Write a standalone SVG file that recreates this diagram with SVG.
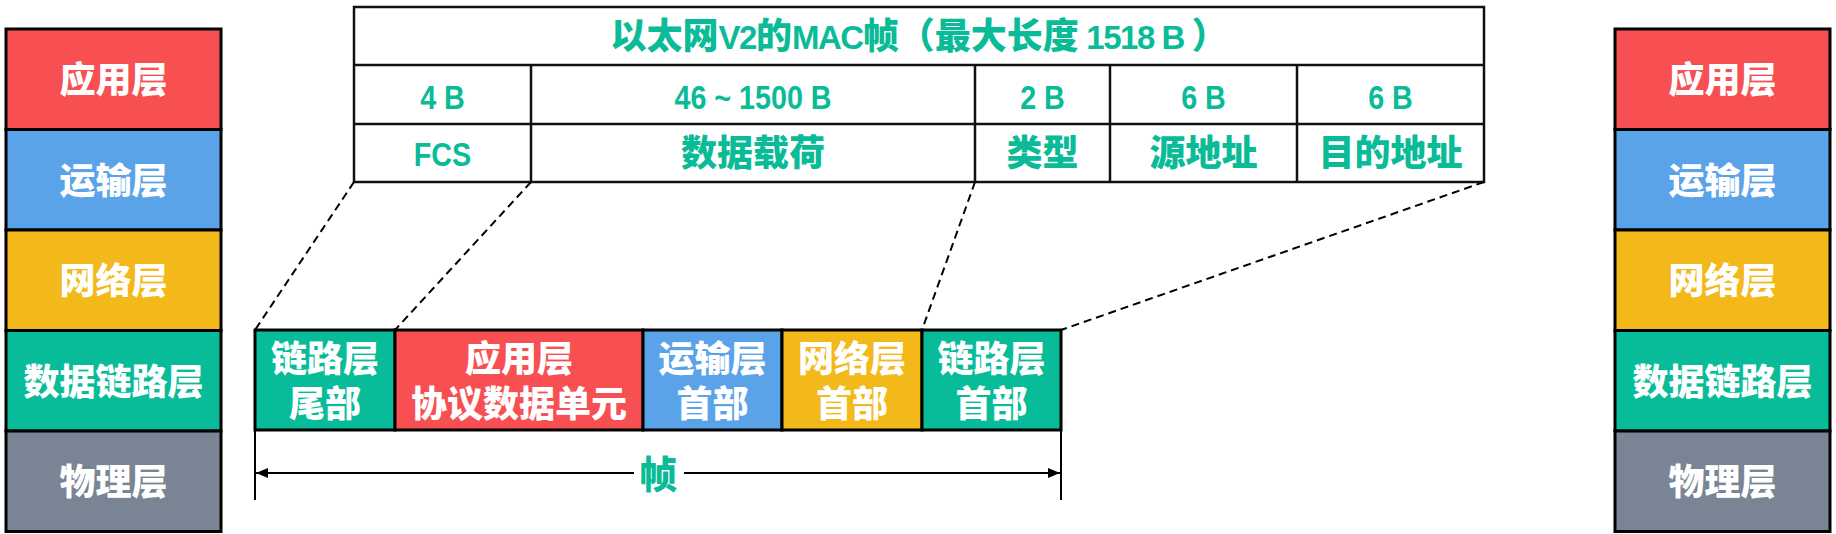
<svg xmlns="http://www.w3.org/2000/svg" width="1836" height="534" viewBox="0 0 1836 534">
<style>
text{font-family:"Liberation Sans","Noto Sans CJK SC",sans-serif;font-weight:900;text-anchor:middle}
.w{fill:#ffffff;font-size:36px}
.g{fill:#0ABB97;font-size:36px}
.gl{fill:#0ABB97;font-size:33px}
.lat{font-size:33px;letter-spacing:-1.5px}
.cell{stroke:#000;stroke-width:3}
.tb{fill:none;stroke:#111;stroke-width:2.5}
.red{fill:#F85052}
.blue{fill:#5BA3E8}
.yel{fill:#F3B91B}
.grn{fill:#08BC99}
.gry{fill:#798594}
.dash{fill:none;stroke:#000;stroke-width:2;stroke-dasharray:8 5}
.dim{fill:none;stroke:#000;stroke-width:2}
</style>
<defs>
<marker id="arr" viewBox="0 0 12 10" refX="12" refY="5" markerWidth="12" markerHeight="10" markerUnits="userSpaceOnUse" orient="auto-start-reverse">
<path d="M0,0 L12,5 L0,10 z" fill="#000"/>
</marker>
</defs>

<g id="left-stack">
<g id="left-app"><rect class="cell red" x="6" y="29" width="215" height="100.5"/><text class="w" x="113.5" y="93">应用层</text></g>
<g id="left-trans"><rect class="cell blue" x="6" y="129.5" width="215" height="100.5"/><text class="w" x="113.5" y="193.5">运输层</text></g>
<g id="left-net"><rect class="cell yel" x="6" y="230" width="215" height="100.5"/><text class="w" x="113.5" y="294">网络层</text></g>
<g id="left-link"><rect class="cell grn" x="6" y="330.5" width="215" height="100.5"/><text class="w" x="113.5" y="394.5">数据链路层</text></g>
<g id="left-phy"><rect class="cell gry" x="6" y="431" width="215" height="100.5"/><text class="w" x="113.5" y="495">物理层</text></g>
</g>

<g id="right-stack">
<g id="right-app"><rect class="cell red" x="1615" y="29" width="215" height="100.5"/><text class="w" x="1722.5" y="93">应用层</text></g>
<g id="right-trans"><rect class="cell blue" x="1615" y="129.5" width="215" height="100.5"/><text class="w" x="1722.5" y="193.5">运输层</text></g>
<g id="right-net"><rect class="cell yel" x="1615" y="230" width="215" height="100.5"/><text class="w" x="1722.5" y="294">网络层</text></g>
<g id="right-link"><rect class="cell grn" x="1615" y="330.5" width="215" height="100.5"/><text class="w" x="1722.5" y="394.5">数据链路层</text></g>
<g id="right-phy"><rect class="cell gry" x="1615" y="431" width="215" height="100.5"/><text class="w" x="1722.5" y="495">物理层</text></g>
</g>

<g id="mac-table">
<rect class="tb" x="354" y="7" width="1130" height="175"/>
<path class="tb" d="M354,65H1484M354,124H1484M531,65V182M975,65V182M1110,65V182M1297,65V182"/>
<text class="g" x="919" y="49">以太网<tspan class="lat">V2</tspan>的<tspan class="lat">MAC</tspan>帧（最大长度<tspan class="lat"> 1518 B </tspan>）</text>
<text class="gl" transform="translate(442.5,109) scale(0.87,1)">4 B</text>
<text class="gl" transform="translate(753,109) scale(0.87,1)">46 ~ 1500 B</text>
<text class="gl" transform="translate(1042.5,109) scale(0.87,1)">2 B</text>
<text class="gl" transform="translate(1203.5,109) scale(0.87,1)">6 B</text>
<text class="gl" transform="translate(1390.5,109) scale(0.87,1)">6 B</text>
<text class="gl" transform="translate(442.5,166) scale(0.87,1)">FCS</text>
<text class="g" x="753" y="166">数据载荷</text>
<text class="g" x="1042.5" y="166">类型</text>
<text class="g" x="1203.5" y="166">源地址</text>
<text class="g" x="1390.5" y="166">目的地址</text>
</g>

<g id="frame">
<g id="f-trailer"><rect class="cell grn" x="255" y="330" width="140" height="100"/><text class="w" x="325" y="371.5">链路层</text><text class="w" x="325" y="416.5">尾部</text></g>
<g id="f-app"><rect class="cell red" x="395" y="330" width="248" height="100"/><text class="w" x="519" y="371.5">应用层</text><text class="w" x="519" y="416.5">协议数据单元</text></g>
<g id="f-trans"><rect class="cell blue" x="643" y="330" width="139" height="100"/><text class="w" x="712.5" y="371.5">运输层</text><text class="w" x="712.5" y="416.5">首部</text></g>
<g id="f-net"><rect class="cell yel" x="782" y="330" width="140" height="100"/><text class="w" x="852" y="371.5">网络层</text><text class="w" x="852" y="416.5">首部</text></g>
<g id="f-header"><rect class="cell grn" x="922" y="330" width="139" height="100"/><text class="w" x="991.5" y="371.5">链路层</text><text class="w" x="991.5" y="416.5">首部</text></g>
</g>

<g id="connectors">
<line class="dash" x1="354" y1="182" x2="255" y2="330"/>
<line class="dash" x1="531" y1="182" x2="395" y2="330"/>
<line class="dash" x1="975" y1="182" x2="922" y2="330"/>
<line class="dash" x1="1484" y1="182" x2="1061" y2="330"/>
<line class="dim" x1="255" y1="430" x2="255" y2="500"/>
<line class="dim" x1="1061" y1="430" x2="1061" y2="500"/>
<line class="dim" x1="256" y1="473" x2="1060" y2="473" marker-start="url(#arr)" marker-end="url(#arr)"/>
<rect x="634" y="454" width="50" height="40" fill="#fff"/>
<text x="658" y="488" style="fill:#0ABB97;font-size:38px">帧</text>
</g>
</svg>
